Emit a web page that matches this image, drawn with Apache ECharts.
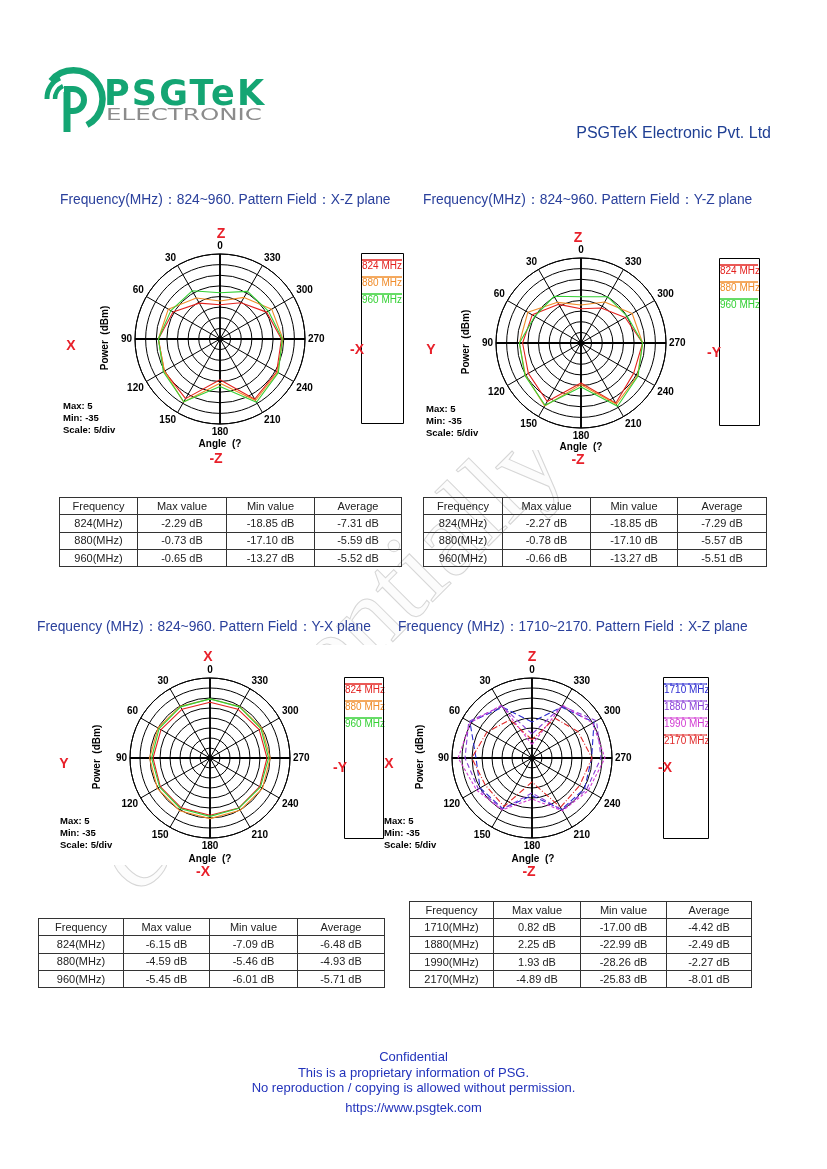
<!DOCTYPE html>
<html>
<head>
<meta charset="utf-8">
<script src="https://cdn.jsdelivr.net/npm/echarts@6/dist/echarts.min.js"></script>
<style>
  body { margin: 0; background: #fff; }
  #page { position: relative; width: 827px; height: 1169px; overflow: hidden; font-family: "Liberation Sans", Arial, sans-serif; background: #fff; }
  #chart { position: absolute; left: 0; top: 0; width: 827px; height: 1169px; z-index: 2; }
  .txt { position: absolute; white-space: nowrap; z-index: 3; }
  .wm { position: absolute; left: 150px; top: 800px; font: 110px/110px "Liberation Serif", serif; color: #fcfcfc;
        -webkit-text-stroke: 1px #d6d6d6; transform-origin: 0 100%; transform: rotate(-45deg); white-space: nowrap; z-index: 0; }
  .cover { position: absolute; background: #fff; z-index: 1; }
  .ttl { font-size: 13.8px; color: #2a409c; }
  .foot { left: 0; width: 827px; text-align: center; font-size: 13px; color: #2233bb; }
  table.dt { position: absolute; border-collapse: collapse; font-size: 11px; color: #222; table-layout: fixed; z-index: 3; }
  table.dt td { border: 1px solid #333; height: 16.3px; padding: 0; text-align: center; line-height: 15px; overflow: hidden; }
</style>
</head>
<body>
<div id="page">
  <div class="wm">confidentially</div>
  <div class="cover" style="left:56px;top:222px;width:354px;height:246px;"></div>
  <div class="cover" style="left:420px;top:226px;width:348px;height:224px;"></div>
  <div class="cover" style="left:56px;top:645px;width:334px;height:220px;"></div>
  <div class="cover" style="left:380px;top:645px;width:332px;height:232px;"></div>

  <div id="chart"></div>

  <svg class="txt" style="left:0;top:0" width="300" height="150" viewBox="0 0 300 150">
    <g fill="none" stroke="#14a573" stroke-linecap="butt">
      <path d="M 51 81 A 29 29 0 1 1 87 125" stroke-width="6.5"/>
      <path d="M 47 99 A 22 22 0 0 1 60 78" stroke-width="5"/>
      <path d="M 55 99 A 14 14 0 0 1 63 86" stroke-width="4.5"/>
      <line x1="67" y1="92" x2="67" y2="132" stroke-width="7"/>
      <path d="M 64 89 L 73 89 A 11 11 0 0 1 73 111 L 70 111" stroke-width="6"/>
    </g>
    <text x="104" y="105" font-family="DejaVu Sans" font-weight="bold" font-size="35" fill="#14a573" textLength="160">PSGTeK</text>
    <text x="106" y="120" font-family="DejaVu Sans" font-size="15" fill="#8c8c8c" textLength="156" lengthAdjust="spacingAndGlyphs">ELECTRONIC</text>
  </svg>

  <div class="txt" style="right:56px;top:124px;font-size:16px;color:#1f3f94;">PSGTeK Electronic Pvt. Ltd</div>

  <div class="txt ttl" style="left:60px;top:191px;">Frequency(MHz)：824~960. Pattern Field：X-Z plane</div>
  <div class="txt ttl" style="left:423px;top:191px;">Frequency(MHz)：824~960. Pattern Field：Y-Z plane</div>
  <div class="txt ttl" style="left:37px;top:618px;">Frequency (MHz)：824~960. Pattern Field：Y-X plane</div>
  <div class="txt ttl" style="left:398px;top:618px;">Frequency (MHz)：1710~2170. Pattern Field：X-Z plane</div>

  <div class="txt foot" style="top:1049px;">Confidential</div>
  <div class="txt foot" style="top:1065px;">This is a proprietary information of PSG.</div>
  <div class="txt foot" style="top:1080px;">No reproduction / copying is allowed without permission.</div>
  <div class="txt foot" style="top:1100px;">https://www.psgtek.com</div>
</div>

<script>
// ---------------- data ----------------
const ANGLES = [0, 30, 60, 90, 120, 150, 180, 210, 240, 270, 300, 330];
const RADIUS_MIN = -35, RADIUS_MAX = 5, RADIUS_STEP = 5;

// 824~960 MHz, X-Z plane
const XZ_824 = [-18.85, -15.5, -9.5, -6.0, -4.7, -2.6, -15.8, -2.29, -4.2, -6.1, -9.7, -15.3];
const XZ_880 = [-17.10, -12.7, -6.9, -6.0, -4.8, -0.73, -14.2, -1.6, -3.7, -5.4, -6.9, -12.4];
const XZ_960 = [-13.27, -8.8, -8.3, -6.0, -4.2, -0.9, -12.7, -0.65, -3.3, -5.7, -8.7, -9.1];

// 824~960 MHz, Y-Z plane
const YZ_824 = [-18.85, -14.0, -8.5, -7.5, -6.4, -3.2, -16.2, -2.27, -6.4, -6.0, -11.0, -16.0];
const YZ_880 = [-17.10, -12.9, -6.1, -6.0, -4.8, -0.78, -15.4, -1.7, -4.3, -6.0, -7.2, -12.7];
const YZ_960 = [-13.27, -9.6, -9.9, -6.0, -4.5, -1.2, -14.3, -0.66, -4.0, -6.0, -9.9, -9.9];

// 824~960 MHz, Y-X plane
const YX_824 = [-7.09, -6.9, -6.7, -6.5, -6.3, -6.2, -6.4, -6.15, -6.3, -6.5, -6.6, -6.9];
const YX_880 = [-5.46, -5.2, -5.0, -4.8, -4.6, -4.59, -4.7, -4.8, -4.7, -4.9, -5.1, -5.3];
const YX_960 = [-5.45, -5.5, -5.6, -5.8, -5.9, -5.7, -5.8, -6.01, -5.9, -5.7, -5.6, -5.5];

// 1710~2170 MHz, X-Z plane
const HB_1710 = [-17.0, -5.7, 0.82, -7.0, -5.0, -5.8, -16.2, -5.3, -4.6, -5.2, 0.8, -5.6];
const HB_1880 = [-22.99, -5.0, 1.5, -1.5, -4.0, -5.5, -17.5, -5.0, -3.5, -0.5, 2.25, -5.0];
const HB_1990 = [-28.26, -4.5, 0.5, 1.93, -3.0, -5.0, -14.5, -4.5, -2.5, 1.5, 0.0, -4.5];
const HB_2170 = [-25.83, -13.0, -9.0, -4.89, -8.0, -7.0, -23.0, -6.5, -7.5, -5.0, -8.5, -12.0];

// tables
const TABLE_HEAD = ['Frequency', 'Max value', 'Min value', 'Average'];
const LOW_FREQS = ['824(MHz)', '880(MHz)', '960(MHz)'];
const XZ_MAX = [-2.29, -0.73, -0.65], XZ_MIN = [-18.85, -17.10, -13.27], XZ_AVG = [-7.31, -5.59, -5.52];
const YZ_MAX = [-2.27, -0.78, -0.66], YZ_MIN = [-18.85, -17.10, -13.27], YZ_AVG = [-7.29, -5.57, -5.51];
const YX_MAX = [-6.15, -4.59, -5.45], YX_MIN = [-7.09, -5.46, -6.01], YX_AVG = [-6.48, -4.93, -5.71];
const HIGH_FREQS = ['1710(MHz)', '1880(MHz)', '1990(MHz)', '2170(MHz)'];
const HB_MAX = [0.82, 2.25, 1.93, -4.89], HB_MIN = [-17.00, -22.99, -28.26, -25.83], HB_AVG = [-4.42, -2.49, -2.27, -8.01];

// ---------------- styles / layout ----------------
const COL = { r: '#e3221f', o: '#f08c2a', g: '#34d034', b: '#2b2bd0', p: '#8a3fd8', m: '#d23ad2', r2: '#e02828' };
const FONT = 'Liberation Sans';

const PLOTS = [
  { center: [220, 339], radius: 85, dir: [[221, 234, 'Z'], [216, 459, '-Z'], [71, 346, 'X'], [357, 350, '-X']],
    power: [105, 338], angle: [220, 444], info: [63, 400], box: [361, 253, 42, 170],
    series: [['824 MHz', XZ_824, COL.r, 'solid'], ['880 MHz', XZ_880, COL.o, 'solid'], ['960 MHz', XZ_960, COL.g, 'solid']] },
  { center: [581, 343], radius: 85, dir: [[578, 238, 'Z'], [578, 460, '-Z'], [431, 350, 'Y'], [714, 353, '-Y']],
    power: [466, 342], angle: [581, 447], info: [426, 403], box: [719, 258, 40, 167],
    series: [['824 MHz', YZ_824, COL.r, 'solid'], ['880 MHz', YZ_880, COL.o, 'solid'], ['960 MHz', YZ_960, COL.g, 'solid']] },
  { center: [210, 758], radius: 80, dir: [[208, 657, 'X'], [203, 872, '-X'], [64, 764, 'Y'], [340, 768, '-Y']],
    power: [97, 757], angle: [210, 859], info: [60, 815], box: [344, 677, 39, 161],
    series: [['824 MHz', YX_824, COL.r, 'solid'], ['880 MHz', YX_880, COL.o, 'solid'], ['960 MHz', YX_960, COL.g, 'solid']] },
  { center: [532, 758], radius: 80, dir: [[532, 657, 'Z'], [529, 872, '-Z'], [389, 764, 'X'], [665, 768, '-X']],
    power: [420, 757], angle: [533, 859], info: [384, 815], box: [663, 677, 45, 161],
    series: [['1710 MHz', HB_1710, COL.b, [6, 3]], ['1880 MHz', HB_1880, COL.p, [5, 3]], ['1990 MHz', HB_1990, COL.m, [3, 2]], ['2170 MHz', HB_2170, COL.r2, [6, 2, 1, 2]]] }
];

// ---------------- tables ----------------
function fmt(v) { return v.toFixed(2) + ' dB'; }
function buildTable(left, top, widths, freqs, mx, mn, av) {
  const t = document.createElement('table');
  t.className = 'dt';
  t.style.left = left + 'px';
  t.style.top = top + 'px';
  const cg = document.createElement('colgroup');
  widths.forEach(w => { const c = document.createElement('col'); c.style.width = w + 'px'; cg.appendChild(c); });
  t.appendChild(cg);
  const rows = [TABLE_HEAD].concat(freqs.map((f, i) => [f, fmt(mx[i]), fmt(mn[i]), fmt(av[i])]));
  rows.forEach(r => {
    const tr = document.createElement('tr');
    r.forEach(c => { const td = document.createElement('td'); td.textContent = c; tr.appendChild(td); });
    t.appendChild(tr);
  });
  document.getElementById('page').appendChild(t);
}
buildTable(59, 497, [78, 89, 88, 87], LOW_FREQS, XZ_MAX, XZ_MIN, XZ_AVG);
buildTable(423, 497, [79, 88, 87, 89], LOW_FREQS, YZ_MAX, YZ_MIN, YZ_AVG);
buildTable(38, 918, [85, 86, 88, 87], LOW_FREQS, YX_MAX, YX_MIN, YX_AVG);
buildTable(409, 901, [84, 87, 86, 85], HIGH_FREQS, HB_MAX, HB_MIN, HB_AVG);

// ---------------- chart ----------------
const chart = echarts.init(document.getElementById('chart'), null, { renderer: 'canvas' });

const polar = [], angleAxis = [], radiusAxis = [], series = [], legend = [], graphics = [];
const N = PLOTS.length;

PLOTS.forEach((p, i) => {
  polar.push({ center: p.center, radius: p.radius });
  angleAxis.push({
    polarIndex: i, type: 'value', min: 0, max: 360, interval: 30, startAngle: 90, clockwise: false,
    axisLine: { lineStyle: { color: '#000', width: 1 } },
    axisTick: { show: false },
    axisLabel: { margin: 3, fontSize: 10, fontWeight: 'bold', color: '#000', fontFamily: FONT },
    splitLine: { show: true, lineStyle: { color: '#000', width: 1 } }
  });
  radiusAxis.push({
    polarIndex: i, type: 'value', min: RADIUS_MIN, max: RADIUS_MAX, interval: RADIUS_STEP,
    axisLine: { show: false }, axisTick: { show: false }, axisLabel: { show: false },
    splitLine: { show: true, lineStyle: { color: '#000', width: 1 } }
  });

  const rich = {};
  const legendData = [];
  p.series.forEach((s, k) => {
    const [name, vals, color, type] = s;
    const data = ANGLES.map((a, j) => [vals[j], a]);
    data.push([vals[0], 360]);
    series.push({
      name, type: 'line', coordinateSystem: 'polar', polarIndex: i, data,
      symbol: 'none', showSymbol: false, animation: false, z: 3,
      lineStyle: { color, width: 1.1, type }, itemStyle: { color }
    });
    rich['l' + k] = { width: p.box[2] - 2, height: 0, lineHeight: 2, borderColor: color, borderWidth: 1, borderType: Array.isArray(type) ? 'dashed' : 'solid' };
    rich['t' + k] = { color, fontSize: 10, fontFamily: FONT, lineHeight: 10 };
    legendData.push({ name });
  });
  // centre dot
  series.push({
    name: 'centre' + i, type: 'scatter', coordinateSystem: 'polar', polarIndex: i,
    data: [[RADIUS_MIN, 0]], symbolSize: 5, itemStyle: { color: '#000' }, animation: false, z: 4, silent: true
  });

  const names = p.series.map(s => s[0]);
  legend.push({
    orient: 'vertical', left: p.box[0] - 4, top: p.box[1] + 1, padding: 0, itemGap: 0,
    itemWidth: 0, itemHeight: 0, icon: 'none', selectedMode: false,
    data: legendData,
    formatter: name => { const k = names.indexOf(name); return '{l' + k + '|}\n{t' + k + '|' + name + '}'; },
    textStyle: { rich }
  });

  // legend box
  graphics.push({ type: 'rect', z: 5, silent: true, shape: { x: p.box[0] + 0.5, y: p.box[1] + 0.5, width: p.box[2], height: p.box[3] },
    style: { fill: 'none', stroke: '#000', lineWidth: 1 } });

  // direction labels
  p.dir.forEach(d => graphics.push({ type: 'text', x: d[0], y: d[1], z: 6, silent: true,
    style: { text: d[2], font: 'bold 14px "' + FONT + '"', fill: '#e8202a', textAlign: 'center', textVerticalAlign: 'middle', align: 'center', verticalAlign: 'middle' } }));

  graphics.push({ type: 'text', x: p.power[0], y: p.power[1], rotation: Math.PI / 2, z: 6, silent: true,
    style: { text: 'Power  (dBm)', font: 'bold 10px "' + FONT + '"', fill: '#000', textAlign: 'center', textVerticalAlign: 'middle', align: 'center', verticalAlign: 'middle' } });
  graphics.push({ type: 'text', x: p.angle[0], y: p.angle[1], z: 6, silent: true,
    style: { text: 'Angle  (?', font: 'bold 10px "' + FONT + '"', fill: '#000', textAlign: 'center', textVerticalAlign: 'middle', align: 'center', verticalAlign: 'middle' } });
  graphics.push({ type: 'text', x: p.info[0], y: p.info[1], z: 6, silent: true,
    style: { text: 'Max: 5\nMin: -35\nScale: 5/div', font: 'bold 9.5px "' + FONT + '"', lineHeight: 12, fill: '#000', textAlign: 'left', textVerticalAlign: 'top', align: 'left', verticalAlign: 'top' } });
});

// overlay polars: heavier main axes (0 / 90 / 180 / 270)
PLOTS.forEach((p, i) => {
  polar.push({ center: p.center, radius: p.radius });
  angleAxis.push({
    polarIndex: N + i, type: 'value', min: 0, max: 360, interval: 90, startAngle: 90, clockwise: false,
    axisLine: { show: false }, axisTick: { show: false }, axisLabel: { show: false },
    splitLine: { show: true, lineStyle: { color: '#000', width: 1.8 } }
  });
  radiusAxis.push({
    polarIndex: N + i, type: 'value', min: RADIUS_MIN, max: RADIUS_MAX, interval: RADIUS_STEP,
    axisLine: { show: false }, axisTick: { show: false }, axisLabel: { show: false }, splitLine: { show: false }
  });
});

chart.setOption({
  animation: false,
  backgroundColor: 'transparent',
  polar, angleAxis, radiusAxis, series, legend,
  graphic: { elements: graphics }
});
</script>
</body>
</html>
